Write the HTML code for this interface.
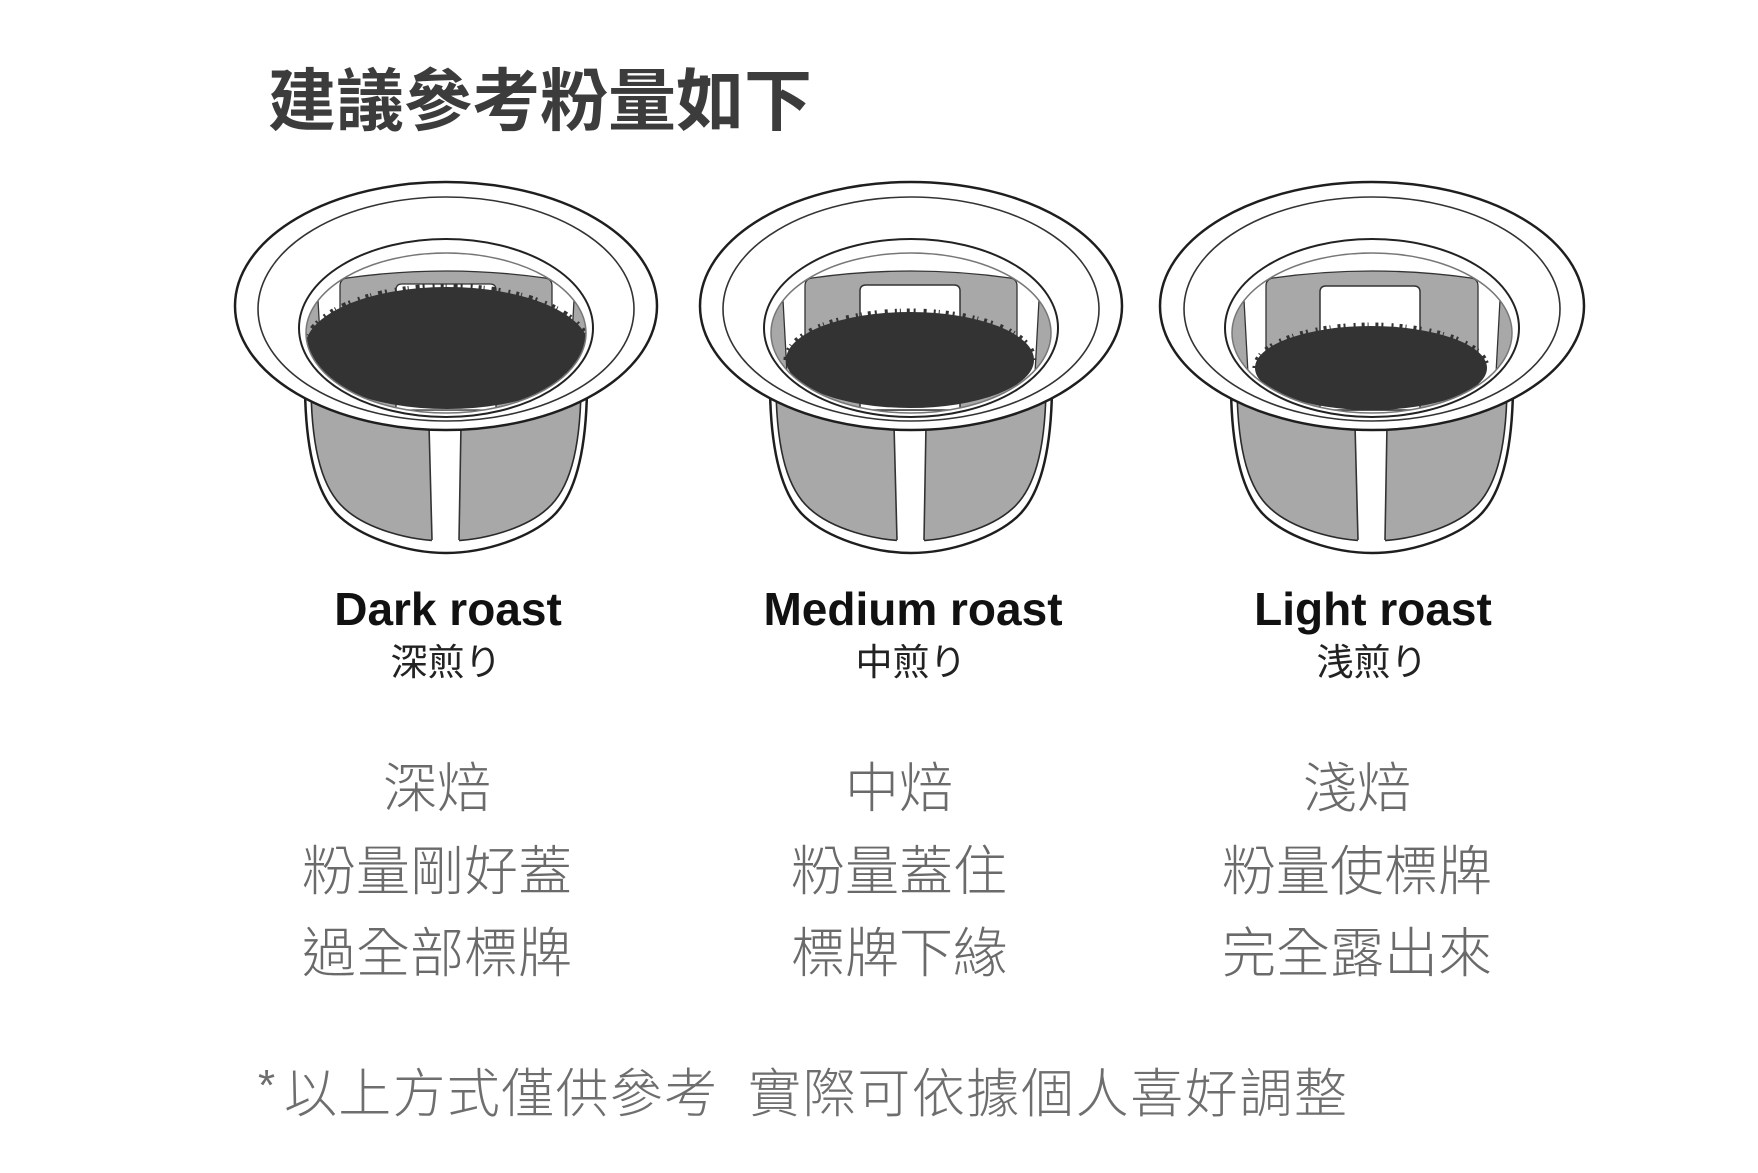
<!DOCTYPE html>
<html>
<head>
<meta charset="utf-8">
<style>
html,body{margin:0;padding:0;}
body{width:1758px;height:1173px;background:#fff;position:relative;overflow:hidden;}
.t{position:absolute;white-space:nowrap;line-height:1;}
.title{left:268px;top:68px;font-size:68px;font-weight:700;color:#3c3c3c;font-family:"Liberation Sans","Noto Sans CJK TC",sans-serif;}
.lab{width:500px;text-align:center;font-family:"Liberation Sans",sans-serif;font-weight:700;font-size:46px;color:#111;top:586px;}
.sub{width:300px;text-align:center;font-family:"Liberation Sans","Noto Sans CJK JP",sans-serif;font-size:37px;color:#222;top:644px;}
.col{width:500px;text-align:center;font-family:"Liberation Sans","Noto Sans CJK TC",sans-serif;font-weight:300;font-size:54px;color:#6a6a6a;}
.foot{font-family:"Liberation Sans","Noto Sans CJK TC",sans-serif;font-weight:300;font-size:53px;color:#6e6e6e;top:1068px;}
svg{position:absolute;left:0;top:0;}
</style>
</head>
<body>
<svg width="1758" height="1173" viewBox="0 0 1758 1173">
<defs>
<clipPath id="lip"><ellipse cx="0" cy="333" rx="140" ry="80"/></clipPath>
</defs>

<!-- CUP 1 -->
<g transform="translate(446,0)">
  <path d="M-141,390 C-140,455 -128,497 -106,517 C-84,537 -40,553 0,553 C40,553 84,537 106,517 C128,497 140,455 141,390 Z" fill="#fff" stroke="#1e1e1e" stroke-width="2.5"/>
  <path d="M-135,390 C-134,452 -123,490 -101,509 C-80,528 -38,541 0,541 C38,541 80,528 101,509 C123,490 134,452 135,390 Z" fill="#a8a8a8" stroke="#2a2a2a" stroke-width="1.6"/>
  <polygon points="-17,395 15,395 13,546 -14,546" fill="#fff"/>
  <path d="M-17,425 L-14,540 M15,425 L13,540" stroke="#333" stroke-width="1.6" fill="none"/>
  <ellipse cx="0" cy="306" rx="211" ry="124" fill="#fff" stroke="#1e1e1e" stroke-width="2.5"/>
  <ellipse cx="0" cy="309" rx="188" ry="112" fill="none" stroke="#333" stroke-width="1.6"/>
  <ellipse cx="0" cy="328" rx="147" ry="89" fill="#fff" stroke="#222" stroke-width="2"/>
  <g clip-path="url(#lip)">
    <rect x="-170" y="240" width="340" height="200" fill="#fff"/>
    <path d="M-170,300 L-128,300 L-122,410 L-170,410 Z" fill="#a8a8a8"/>
    <path d="M170,300 L128,300 L122,410 L170,410 Z" fill="#a8a8a8"/>
    <path d="M-128,300 L-122,410 M128,300 L122,410" stroke="#333" stroke-width="1.3" fill="none"/>
    <path d="M-106,410 L-106,286 Q-106,279 -99,278 Q0,264 99,278 Q106,279 106,286 L106,410 Z" fill="#a8a8a8" stroke="#333" stroke-width="1.3"/>
    <path d="M-50,410 L-50,290 Q-50,284 -44,284 L44,284 Q50,284 50,290 L50,410 Z" fill="#fff" stroke="#333" stroke-width="1.3"/>
    <ellipse cx="1" cy="348" rx="142" ry="61" fill="#333"/>
    <path d="M-141,348 A142 62 0 0 1 143,348" fill="none" stroke="#333" stroke-width="5" stroke-dasharray="2 6 3 2 1 7 4 3 2 8"/>
  </g>
  <ellipse cx="0" cy="333" rx="140" ry="80" fill="none" stroke="#777" stroke-width="1.5"/>
</g>

<!-- CUP 2 -->
<g transform="translate(911,0)">
  <path d="M-141,390 C-140,455 -128,497 -106,517 C-84,537 -40,553 0,553 C40,553 84,537 106,517 C128,497 140,455 141,390 Z" fill="#fff" stroke="#1e1e1e" stroke-width="2.5"/>
  <path d="M-135,390 C-134,452 -123,490 -101,509 C-80,528 -38,541 0,541 C38,541 80,528 101,509 C123,490 134,452 135,390 Z" fill="#a8a8a8" stroke="#2a2a2a" stroke-width="1.6"/>
  <polygon points="-17,395 15,395 13,546 -14,546" fill="#fff"/>
  <path d="M-17,425 L-14,540 M15,425 L13,540" stroke="#333" stroke-width="1.6" fill="none"/>
  <ellipse cx="0" cy="306" rx="211" ry="124" fill="#fff" stroke="#1e1e1e" stroke-width="2.5"/>
  <ellipse cx="0" cy="309" rx="188" ry="112" fill="none" stroke="#333" stroke-width="1.6"/>
  <ellipse cx="0" cy="328" rx="147" ry="89" fill="#fff" stroke="#222" stroke-width="2"/>
  <g clip-path="url(#lip)">
    <rect x="-170" y="240" width="340" height="200" fill="#fff"/>
    <path d="M-170,300 L-128,300 L-122,410 L-170,410 Z" fill="#a8a8a8"/>
    <path d="M170,300 L128,300 L122,410 L170,410 Z" fill="#a8a8a8"/>
    <path d="M-128,300 L-122,410 M128,300 L122,410" stroke="#333" stroke-width="1.3" fill="none"/>
    <path d="M-106,410 L-106,286 Q-106,279 -99,278 Q0,264 99,278 Q106,279 106,286 L106,410 Z" fill="#a8a8a8" stroke="#333" stroke-width="1.3"/>
    <path d="M-51,410 L-51,291 Q-51,285 -45,285 L43,285 Q49,285 49,291 L49,410 Z" fill="#fff" stroke="#333" stroke-width="1.5"/>
    <ellipse cx="-1" cy="360" rx="124" ry="48" fill="#333"/>
    <path d="M-125,360 A124 49 0 0 1 123,360" fill="none" stroke="#333" stroke-width="5" stroke-dasharray="3 7 2 3 1 6 3 4 2 8"/>
  </g>
  <ellipse cx="0" cy="333" rx="140" ry="80" fill="none" stroke="#777" stroke-width="1.5"/>
</g>

<!-- CUP 3 -->
<g transform="translate(1372,0)">
  <path d="M-141,390 C-140,455 -128,497 -106,517 C-84,537 -40,553 0,553 C40,553 84,537 106,517 C128,497 140,455 141,390 Z" fill="#fff" stroke="#1e1e1e" stroke-width="2.5"/>
  <path d="M-135,390 C-134,452 -123,490 -101,509 C-80,528 -38,541 0,541 C38,541 80,528 101,509 C123,490 134,452 135,390 Z" fill="#a8a8a8" stroke="#2a2a2a" stroke-width="1.6"/>
  <polygon points="-17,395 15,395 13,546 -14,546" fill="#fff"/>
  <path d="M-17,425 L-14,540 M15,425 L13,540" stroke="#333" stroke-width="1.6" fill="none"/>
  <ellipse cx="0" cy="306" rx="212" ry="124" fill="#fff" stroke="#1e1e1e" stroke-width="2.5"/>
  <ellipse cx="0" cy="309" rx="188" ry="112" fill="none" stroke="#333" stroke-width="1.6"/>
  <ellipse cx="0" cy="328" rx="147" ry="89" fill="#fff" stroke="#222" stroke-width="2"/>
  <g clip-path="url(#lip)">
    <rect x="-170" y="240" width="340" height="200" fill="#fff"/>
    <path d="M-170,300 L-128,300 L-122,410 L-170,410 Z" fill="#a8a8a8"/>
    <path d="M170,300 L128,300 L122,410 L170,410 Z" fill="#a8a8a8"/>
    <path d="M-128,300 L-122,410 M128,300 L122,410" stroke="#333" stroke-width="1.3" fill="none"/>
    <path d="M-106,410 L-106,286 Q-106,279 -99,278 Q0,264 99,278 Q106,279 106,286 L106,410 Z" fill="#a8a8a8" stroke="#333" stroke-width="1.3"/>
    <path d="M-52,410 L-52,292 Q-52,286 -46,286 L42,286 Q48,286 48,292 L48,410 Z" fill="#fff" stroke="#333" stroke-width="1.5"/>
    <ellipse cx="-1" cy="368" rx="116" ry="42" fill="#333"/>
    <path d="M-117,368 A116 43 0 0 1 115,368" fill="none" stroke="#333" stroke-width="5" stroke-dasharray="2 6 3 3 1 7 3 3 2 8"/>
  </g>
  <ellipse cx="0" cy="333" rx="140" ry="80" fill="none" stroke="#777" stroke-width="1.5"/>
</g>
</svg>

<div class="t title">建議參考粉量如下</div>

<div class="t lab" style="left:198px;">Dark roast</div>
<div class="t lab" style="left:663px;">Medium roast</div>
<div class="t lab" style="left:1123px;">Light roast</div>

<div class="t sub" style="left:296px;">深煎り</div>
<div class="t sub" style="left:761px;">中煎り</div>
<div class="t sub" style="left:1222px;">浅煎り</div>

<div class="t col" style="left:187px;top:762px;">深焙</div>
<div class="t col" style="left:187px;top:845px;">粉量剛好蓋</div>
<div class="t col" style="left:187px;top:927px;">過全部標牌</div>

<div class="t col" style="left:649px;top:762px;">中焙</div>
<div class="t col" style="left:649px;top:845px;">粉量蓋住</div>
<div class="t col" style="left:649px;top:927px;">標牌下緣</div>

<div class="t col" style="left:1107px;top:762px;">淺焙</div>
<div class="t col" style="left:1107px;top:845px;">粉量使標牌</div>
<div class="t col" style="left:1107px;top:927px;">完全露出來</div>

<div class="t foot" style="left:258px;top:1064px;font-size:44px;">*</div>
<div class="t foot" style="left:284px;letter-spacing:1.3px;">以上方式僅供參考</div>
<div class="t foot" style="left:748px;letter-spacing:1.6px;">實際可依據個人喜好調整</div>
</body>
</html>
